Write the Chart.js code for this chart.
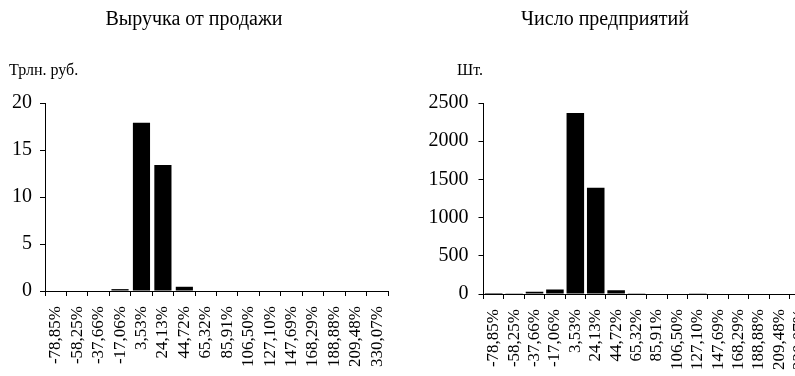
<!DOCTYPE html>
<html>
<head>
<meta charset="utf-8">
<script src="https://cdn.jsdelivr.net/npm/chart.js@4"></script>
<style>
  html, body { margin: 0; padding: 0; background: #fff; }
  #wrap { position: relative; width: 795px; height: 376px; overflow: hidden; background: #fff; }
  .box { position: absolute; top: 0; height: 376px; }
  #leftBox { left: 0; width: 400px; }
  #rightBox { left: 400px; width: 430px; }
</style>
</head>
<body>
<div id="wrap">
  <div class="box" id="leftBox"><canvas id="revenue" width="400" height="376"></canvas></div>
  <div class="box" id="rightBox"><canvas id="firms" width="430" height="376"></canvas></div>
</div>
<script>
// Growth-rate intervals shared by both histograms
const categories = ['-78,85%', '-58,25%', '-37,66%', '-17,06%', '3,53%', '24,13%', '44,72%',
  '65,32%', '85,91%', '106,50%', '127,10%', '147,69%', '168,29%', '188,88%', '209,48%', '330,07%'];

// Sales revenue per interval, trillion roubles
const revenueValues = [0, 0, 0, 0.2, 17.9, 13.4, 0.45, 0, 0, 0, 0, 0, 0, 0, 0, 0];
// Number of enterprises per interval
const firmValues = [12, 10, 28, 60, 2370, 1390, 48, 10, 0, 0, 10, 0, 0, 0, 0, 0];

const revenueTicks = [0, 5, 10, 15, 20];
const firmTicks = [0, 500, 1000, 1500, 2000, 2500];

const FONT = "'Liberation Serif', 'Times New Roman', serif";

// Unit caption written above the value axis
const unitLabel = {
  id: 'unitLabel',
  afterDraw(chart, args, opts) {
    const ctx = chart.ctx;
    ctx.save();
    ctx.fillStyle = '#000';
    ctx.font = opts.size + 'px ' + FONT;
    ctx.textBaseline = 'middle';
    ctx.textAlign = 'left';
    ctx.fillText(opts.text, opts.x, opts.y);
    ctx.restore();
  }
};

function makeChart(id, cfg) {
  return new Chart(document.getElementById(id), {
    type: 'bar',
    data: {
      labels: categories,
      datasets: [{
        data: cfg.values,
        backgroundColor: '#000',
        borderWidth: 0,
        barPercentage: cfg.barPct,
        categoryPercentage: 1
      }]
    },
    options: {
      responsive: false,
      animation: false,
      events: [],
      layout: { padding: { left: 0, right: cfg.padRight, top: 0, bottom: 0 } },
      plugins: {
        legend: { display: false },
        tooltip: { enabled: false },
        title: {
          display: true,
          text: cfg.title,
          color: '#000',
          font: { family: FONT, size: 20, weight: 'normal', lineHeight: 1.2 },
          padding: { top: 8, bottom: cfg.gapTop }
        },
        unitLabel: { text: cfg.unit, x: cfg.unitX, y: 71, size: 16 }
      },
      scales: {
        x: {
          grid: {
            display: true, offset: true, drawOnChartArea: false, drawTicks: true,
            tickLength: 5, color: '#000', lineWidth: 1
          },
          border: { display: true, color: '#000', width: 1 },
          ticks: {
            color: '#000', autoSkip: false, minRotation: 90, maxRotation: 90, padding: 10,
            font: { family: FONT, size: 17 }
          },
          afterFit(scale) {
            scale.height = cfg.xHeight;
            scale.paddingLeft = 0;
            scale.paddingRight = 0;
          }
        },
        y: {
          min: 0,
          max: cfg.ticks[cfg.ticks.length - 1],
          afterBuildTicks(scale) { scale.ticks = cfg.ticks.map(v => ({ value: v })); },
          grid: {
            display: true, drawOnChartArea: false, drawTicks: true,
            tickLength: 5, color: '#000', lineWidth: 1
          },
          border: { display: true, color: '#000', width: 1 },
          ticks: {
            color: '#000', padding: cfg.yPad,
            font: { family: FONT, size: 20 },
            callback: v => String(v)
          },
          afterFit(scale) { scale.width = cfg.yWidth; }
        }
      }
    },
    plugins: [unitLabel]
  });
}

makeChart('revenue', {
  title: 'Выручка от продажи',
  unit: 'Трлн. руб.',
  unitX: 9,
  values: revenueValues,
  ticks: revenueTicks,
  barPct: 0.8,
  padRight: 12,
  yWidth: 45,
  yPad: 8,
  xHeight: 85,
  gapTop: 71
});

makeChart('firms', {
  title: 'Число предприятий',
  unit: 'Шт.',
  unitX: 57,
  values: firmValues,
  ticks: firmTicks,
  barPct: 0.86,
  padRight: 20,
  yWidth: 83.5,
  yPad: 10,
  xHeight: 82,
  gapTop: 71
});
</script>
</body>
</html>
